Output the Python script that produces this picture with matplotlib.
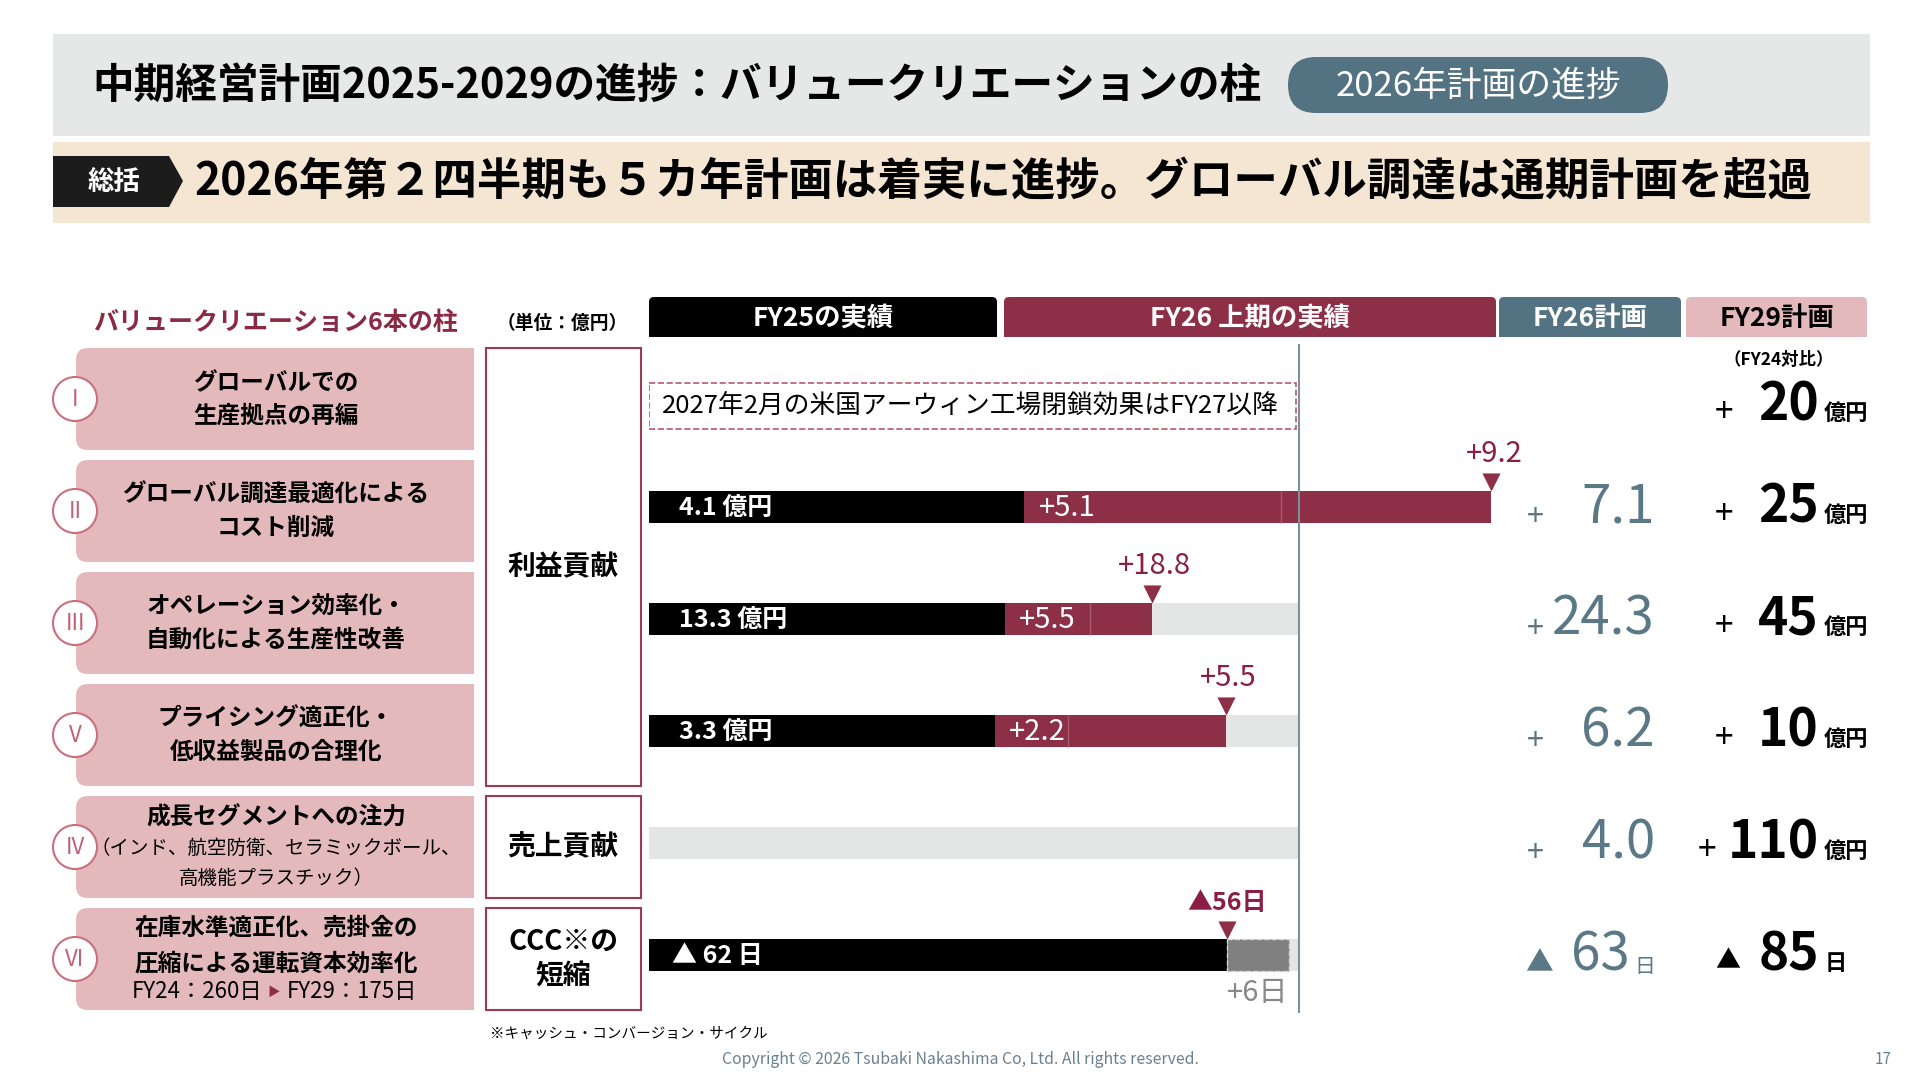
import matplotlib.pyplot as plt
from matplotlib.patches import Rectangle, FancyBboxPatch, Polygon, Circle

plt.rcParams['font.family'] = ['Noto Sans CJK JP', 'DejaVu Sans']

# ---- data ----
title = '中期経営計画2025-2029の進捗：バリュークリエーションの柱'
pill_label = '2026年計画の進捗'
summary = '2026年第２四半期も５カ年計画は着実に進捗。グローバル調達は通期計画を超過'
col_heads = ['FY25の実績', 'FY26 上期の実績', 'FY26計画', 'FY29計画']

pillar_nums = ['I', 'II', 'III', 'V', 'IV', 'VI']
pillar_lines = [
    ['グローバルでの', '生産拠点の再編'],
    ['グローバル調達最適化による', 'コスト削減'],
    ['オペレーション効率化・', '自動化による生産性改善'],
    ['プライシング適正化・', '低収益製品の合理化'],
    ['成長セグメントへの注力', '（インド、航空防衛、セラミックボール、', '高機能プラスチック）'],
    ['在庫水準適正化、売掛金の', '圧縮による運転資本効率化'],
]
ccc_from = 'FY24：260日'
ccc_to = 'FY29：175日'
groups = ['利益貢献', '売上貢献', 'CCC※の\n短縮']
group_rows = [(0, 3), (4, 4), (5, 5)]

note_row1 = '2027年2月の米国アーウィン工場閉鎖効果はFY27以降'

# profit rows (II, III, V) in 億円
profit_rows = [1, 2, 3]
fy25_actual = [4.1, 13.3, 3.3]
h1_gain = [5.1, 5.5, 2.2]
q1_gain = [2.8, 3.2, 0.7]       # first-quarter share of the H1 gain
fy26_plan = [7.1, 24.3, 6.2]
sales_plan26 = 4.0

# CCC row (days)
ccc_fy25 = 62
ccc_h1 = 56
ccc_plan26 = 63

fy29_plan = [20, 25, 45, 10, 110, 85]

# ---- colours ----
crimson = '#8d2f46'
crimson_txt = '#8b1e45'
slate = '#537282'
slate_txt = '#5b7887'
pink = '#e4b9bc'
bar_bg = '#e4e6e6'

fig = plt.figure(figsize=(19.2, 10.8), dpi=100)
bg = fig.add_axes([0, 0, 1, 1])
bg.set_xlim(0, 1920)
bg.set_ylim(1080, 0)
bg.axis('off')

# header
bg.add_patch(Rectangle((53, 34), 1817, 102, color='#e6e7e7', lw=0))
bg.text(92, 86, title, fontsize=30, fontweight='bold', va='center', ha='left')
bg.add_patch(FancyBboxPatch((1288, 57), 380, 56, boxstyle='round,pad=0,rounding_size=28',
                            color=slate, lw=0))
bg.text(1478, 86, pill_label, fontsize=25, color='white', va='center', ha='center')

# summary band
bg.add_patch(Rectangle((53, 142), 1817, 81, color='#f4e6d3', lw=0))
bg.add_patch(Polygon([(53, 156), (169, 156), (183, 181), (169, 207), (53, 207)],
                     closed=True, color='#1c1c1c', lw=0))
bg.text(114, 182, '総括', fontsize=19, fontweight='bold', color='white', va='center', ha='center')
bg.text(194, 182, summary, fontsize=32, fontweight='bold', va='center', ha='left')

# left titles
bg.text(275, 323, 'バリュークリエーション6本の柱', fontsize=18, fontweight='bold',
        color='#8b2a45', va='center', ha='center')
bg.text(562, 323, '（単位：億円）', fontsize=13.5, fontweight='bold', va='center', ha='center')

# column headers
head_x = [(649, 997), (1004, 1496), (1499, 1681), (1686, 1867)]
head_fc = ['black', crimson, slate, pink]
head_tc = ['white', 'white', 'white', 'black']
for (x0, x1), fc, tc, lab in zip(head_x, head_fc, head_tc, col_heads):
    bg.add_patch(FancyBboxPatch((x0, 297), x1 - x0, 40, boxstyle='round,pad=0,rounding_size=5',
                                color=fc, lw=0))
    bg.add_patch(Rectangle((x0, 317), x1 - x0, 20, color=fc, lw=0))
    bg.text((x0 + x1) / 2, 318, lab, fontsize=19, fontweight='bold', color=tc,
            va='center', ha='center')
bg.text(1779, 360, '（FY24対比）', fontsize=12.5, fontweight='bold', va='center', ha='center')

# pillar boxes
box_top = 348
step = 112
for i, (num, lines) in enumerate(zip(pillar_nums, pillar_lines)):
    y0 = box_top + i * step
    yc = y0 + 51
    bg.add_patch(FancyBboxPatch((76, y0), 398, 102, boxstyle='round,pad=0,rounding_size=12',
                                color=pink, lw=0))
    bg.add_patch(Rectangle((300, y0), 174, 102, color=pink, lw=0))
    bg.add_patch(Circle((75, yc), 22, facecolor='white', edgecolor='#c8707e', lw=1.5))
    bg.text(75, yc, num, fontsize=16, color='#c06075', va='center', ha='center')
    if i == 4:
        bg.text(276, yc - 29, lines[0], fontsize=17, fontweight='bold', va='center', ha='center')
        bg.text(276, yc + 1, lines[1], fontsize=14, va='center', ha='center')
        bg.text(276, yc + 31, lines[2], fontsize=14, va='center', ha='center')
    elif i == 5:
        bg.text(276, yc - 31, lines[0], fontsize=17, fontweight='bold', va='center', ha='center')
        bg.text(276, yc + 4, lines[1], fontsize=17, fontweight='bold', va='center', ha='center')
        bg.text(262, yc + 33, ccc_from, fontsize=16, va='center', ha='right')
        bg.text(274, yc + 33, '▶', fontsize=9, color=crimson, va='center', ha='center')
        bg.text(287, yc + 33, ccc_to, fontsize=16, va='center', ha='left')
    else:
        bg.text(276, yc - 16, lines[0], fontsize=17, fontweight='bold', va='center', ha='center')
        bg.text(276, yc + 17, lines[1], fontsize=17, fontweight='bold', va='center', ha='center')

# contribution group boxes
for lab, (r0, r1) in zip(groups, group_rows):
    y0 = box_top + r0 * step
    y1 = box_top + r1 * step + 102
    bg.add_patch(Rectangle((486, y0), 155, y1 - y0, facecolor='white', edgecolor='#9b3b52', lw=1.5))
    bg.text(563, (y0 + y1) / 2, lab, fontsize=20, fontweight='bold', va='center', ha='center',
            linespacing=1.3)

# ---- bars ----
ax = fig.add_axes([649 / 1920, 1 - 1011 / 1080, 1000 / 1920, 672 / 1080])
ax.set_xlim(0, 1000 / 650)
ax.set_ylim(5.5, -0.5)
ax.axis('off')
h = 32 / 112

ax.barh(range(1, 6), 1.0, height=h, color=bar_bg, lw=0)
for r, a, g, q, p in zip(profit_rows, fy25_actual, h1_gain, q1_gain, fy26_plan):
    ax.barh(r, a / p, height=h, color='black', lw=0)
    ax.barh(r, q / p, left=a / p, height=h, color=crimson, lw=0)
    ax.barh(r, (g - q) / p, left=(a + q) / p, height=h, color=crimson, lw=0)
    ax.vlines((a + q) / p, r - h / 2, r + h / 2, color='#a85a6d', lw=1)
    ax.text(0.046, r + 0.01, f'{a:.1f} 億円', fontsize=18, fontweight='bold', color='white',
            va='center', ha='left')
    ax.text(a / p + 0.022, r + 0.01, f'+{g:.1f}', fontsize=21, color='white', va='center', ha='left')
    ax.scatter((a + g) / p, r - 0.225, marker='v', s=170, color=crimson, lw=0)
    ax.text((a + g) / p + 0.004, r - 0.47, f'+{a + g:.1f}', fontsize=21, color=crimson_txt,
            va='center', ha='center')

# CCC row
r = 5
ax.barh(r, ccc_h1 / ccc_plan26, height=h, color='black', lw=0)
ax.barh(r, (ccc_fy25 - ccc_h1) / ccc_plan26, left=ccc_h1 / ccc_plan26, height=h,
        color='#808080', edgecolor='#d8d8d8', ls='--', lw=1)
ax.text(0.035, r + 0.01, f'▲ {ccc_fy25} 日', fontsize=18, fontweight='bold', color='white',
        va='center', ha='left')
ax.scatter(ccc_h1 / ccc_plan26, r - 0.225, marker='v', s=170, color=crimson, lw=0)
ax.text(ccc_h1 / ccc_plan26, r - 0.46, f'▲{ccc_h1}日', fontsize=18, fontweight='bold',
        color=crimson_txt, va='center', ha='center')
ax.text((ccc_h1 + ccc_fy25) / 2 / ccc_plan26, r + 0.34, f'+{ccc_fy25 - ccc_h1}日', fontsize=21,
        color='#888888', va='center', ha='center')

# row I note
ax.add_patch(Rectangle((0, -0.107), 0.995, 0.41, fill=False, ec='#b55a70', ls='--', lw=1.2))
ax.text(0.02, 0.098, note_row1, fontsize=18.5, va='center', ha='left')

# FY26 plan line
ax.vlines(1.0, -0.455, 5.52, color='#7d8f99', lw=1.5, clip_on=False)

# ---- right columns ----
fy26_col = [None] + fy26_plan + [sales_plan26, ccc_plan26]
for i, (v26, v29) in enumerate(zip(fy26_col, fy29_plan)):
    y = 395 + i * step + (10 if i == 0 else 0)
    if v26 is not None:
        if i == 5:
            bg.text(1539, y + 8, '▲', fontsize=20, color=slate_txt, va='center', ha='center')
            bg.text(1630, y, f'{v26}', fontsize=38, color=slate_txt, va='center', ha='right')
            bg.text(1645, y + 12, '日', fontsize=15, color=slate_txt, va='center', ha='center')
        else:
            bg.text(1535, y + 10, '+', fontsize=22, color=slate_txt, va='center', ha='center')
            bg.text(1655, y, f'{v26:.1f}', fontsize=38, color=slate_txt, va='center', ha='right')
    if i == 5:
        bg.text(1728, y + 6, '▲', fontsize=18, va='center', ha='center')
        bg.text(1819, y, f'{v29}', fontsize=37, fontweight='bold', va='center', ha='right')
        bg.text(1836, y + 8, '日', fontsize=16, fontweight='bold', va='center', ha='center')
    else:
        plus_x = 1707 if v29 >= 100 else 1724
        bg.text(plus_x, y + 8, '+', fontsize=24, va='center', ha='center')
        bg.text(1819, y, f'{v29}', fontsize=37, fontweight='bold', va='center', ha='right')
        bg.text(1824, y + 8, '億円', fontsize=16, fontweight='bold', va='center', ha='left')

# footer
bg.text(490, 1034, '※キャッシュ・コンバージョン・サイクル', fontsize=10.5, va='center', ha='left')
bg.text(960, 1060, 'Copyright © 2026 Tsubaki Nakashima Co, Ltd. All rights reserved.', fontsize=11.4,
        color='#6a8090', va='center', ha='center')
bg.text(1883, 1060, '17', fontsize=11, color='#6a8090', va='center', ha='center')

fig.savefig('out.png', dpi=100)
